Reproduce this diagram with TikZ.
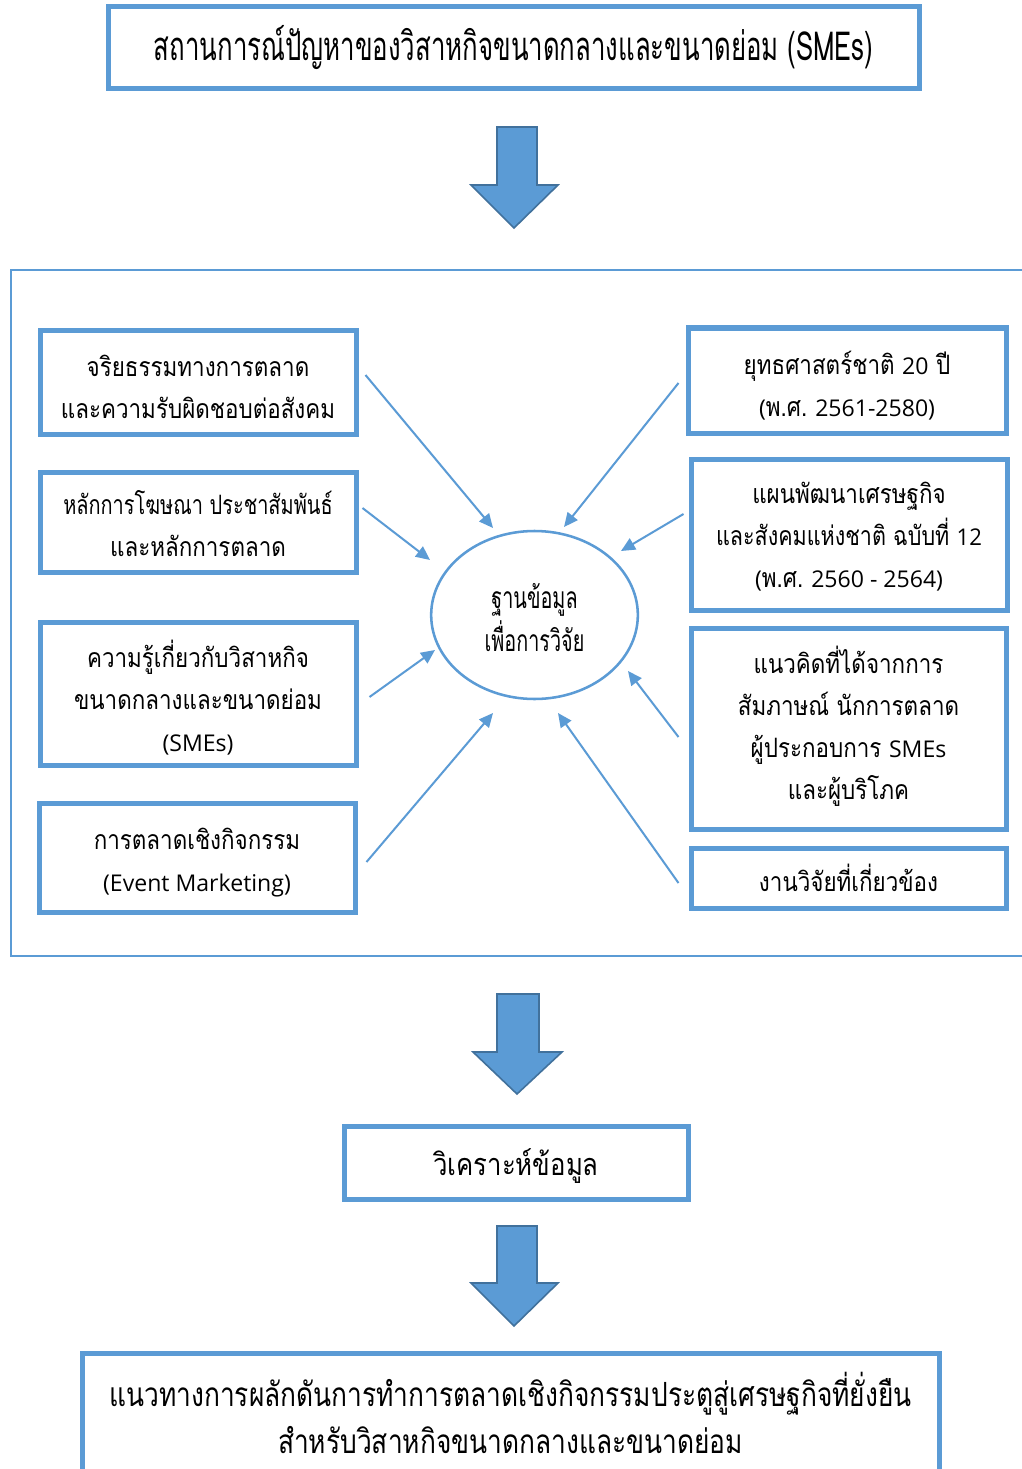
\documentclass[tikz,border=0pt]{standalone}
\usepackage{graphicx}
\usepackage{fontspec}
\setmainfont[Script=Thai]{Loma}
\newfontfamily\boxfont[Script=Thai,FakeStretch=0.84]{Loma}
\newfontfamily\narrowfont[Script=Thai,FakeStretch=0.66]{Loma}
\newfontfamily\topfont[Script=Thai,FakeStretch=0.645]{Loma}
\newfontfamily\botfont[Script=Thai,FakeStretch=0.79]{Loma}
\newfontfamily\latfont{Open Sans}
\newcommand\lat[1]{{\latfont\fontsize{17.3}{31.5}\selectfont #1}}
\newcommand\tl[2]{\raisebox{#1}[\height][\depth]{\begin{tabular}{@{}c@{}}#2\end{tabular}}}
\usetikzlibrary{arrows.meta,calc,shapes.geometric}
\definecolor{bl}{RGB}{91,155,213}
\definecolor{bld}{RGB}{65,113,156}
\begin{document}
\begin{tikzpicture}[x=0.75pt,y=-0.75pt,
 box/.style={draw=bl,line width=3.75pt,inner sep=0pt,font=\boxfont\fontsize{20}{31.5}\selectfont},
 topbox/.style={box,font=\topfont\fontsize{30}{36}\selectfont},
 botbox/.style={box,font=\botfont\fontsize{25}{35}\selectfont},
 anbox/.style={box,font=\boxfont\fontsize{23}{31.5}\selectfont},
 conn/.style={draw=bl,line width=1.5pt,-{Triangle[length=10.5pt,width=9.5pt]}},
 bigarrow/.style={fill=bl,draw=bld,line width=1.2pt,line join=miter}]
\useasboundingbox (0,0) rectangle (1021,1469);
\fill[white] (0,0) rectangle (1021,1469);
% container
\draw[bl,line width=1.5pt] (1040,270) -- (11,270) -- (11,956) -- (1040,956);
% top box
\node[topbox,minimum width=608.25pt,minimum height=61.5pt] (top) at (513.5,48) {\tl{-1.5pt}{สถานการณ์ปัญหาของวิสาหกิจขนาดกลางและขนาดย่อม (SMEs)}};
% arrow 1
\draw[bigarrow] (497,127) -- (537,127) -- (537,185) -- (558,185) -- (514,228) -- (471,185) -- (497,185) -- cycle;
% left boxes
\node[box,minimum width=237pt,minimum height=78pt] (l1) at (198,382) {\tl{-5.4pt}{จริยธรรมทางการตลาด\\และความรับผิดชอบต่อสังคม}};
\node[box,minimum width=237pt,minimum height=75pt] (l2) at (198,522) {\tl{-3.7pt}{\scalebox{0.89}[1]{หลักการโฆษณา ประชาสัมพันธ์}\\และหลักการตลาด}};
\node[box,minimum width=237pt,minimum height=107.25pt] (l3) at (198,693.5) {\tl{-5.8pt}{ความรู้เกี่ยวกับวิสาหกิจ\\ขนาดกลางและขนาดย่อม\\\lat{(SMEs)}}};
\node[box,minimum width=237pt,minimum height=81.75pt] (l4) at (197,857.5) {\tl{-3.4pt}{การตลาดเชิงกิจกรรม\\\lat{(Event Marketing)}}};
% right boxes
\node[box,minimum width=238.5pt,minimum height=78.75pt] (r1) at (847,380.5) {\tl{-5.2pt}{ยุทธศาสตร์ชาติ \lat{20} ปี\\\lat{(}พ.ศ.\lat{ 2561-2580)}}};
\node[box,minimum width=237pt,minimum height=113.25pt] (r2) at (849,534.5) {\tl{-2.2pt}{แผนพัฒนาเศรษฐกิจ\\\scalebox{0.96}[1]{และสังคมแห่งชาติ ฉบับที่ \lat{12}}\\\lat{(}พ.ศ.\lat{ 2560 - 2564)}}};
\node[box,minimum width=236.25pt,minimum height=150.75pt] (r3) at (848.5,728.5) {\tl{0.4pt}{แนวคิดที่ได้จากการ\\สัมภาษณ์ นักการตลาด\\ผู้ประกอบการ \lat{SMEs}\\และผู้บริโภค}};
\node[box,minimum width=236.25pt,minimum height=45pt] (r4) at (848.5,878) {\tl{-3.7pt}{งานวิจัยที่เกี่ยวข้อง}};
% ellipse
\node[draw=bl,line width=1.9pt,ellipse,minimum width=155pt,minimum height=126pt,inner sep=0pt,font=\narrowfont\fontsize{22.5}{31}\selectfont] (db) at (534.5,615) {\tl{-4.8pt}{ฐานข้อมูล\\เพื่อการวิจัย}};
% connector ends
\coordinate (e1) at (493,528);
\coordinate (e2) at (430,560);
\coordinate (e3) at (435,650);
\coordinate (e4) at (493,713);
\coordinate (e5) at (564,527);
\coordinate (e6) at (621,551);
\coordinate (e7) at (628,671);
\coordinate (e8) at (558,713);
\draw[conn] ($(l1.east)+(7,-7)$) -- (e1);
\draw[conn] ($(l2.east)+(4,-14)$) -- (e2);
\draw[conn] ($(l3.east)+(11,3.5)$) -- (e3);
\draw[conn] ($(l4.east)+(9,4.5)$) -- (e4);
\draw[conn] ($(r1.west)+(-7,2.5)$) -- (e5);
\draw[conn] ($(r2.west)+(-5,-20.5)$) -- (e6);
\draw[conn] ($(r3.west)+(-10,8.5)$) -- (e7);
\draw[conn] ($(r4.west)+(-10,5)$) -- (e8);
% arrow 2
\draw[bigarrow] (497,994) -- (539,994) -- (539,1052) -- (562,1052) -- (517,1094) -- (473,1052) -- (497,1052) -- cycle;
\node[anbox,minimum width=258pt,minimum height=54.75pt] (an) at (516,1162.5) {\tl{-3.7pt}{วิเคราะห์ข้อมูล}};
% arrow 3
\draw[bigarrow] (497,1226) -- (537,1226) -- (537,1283) -- (558,1283) -- (514,1326) -- (471,1283) -- (497,1283) -- cycle;
\node[botbox,minimum width=642.75pt,minimum height=94.5pt] (bot) at (510.5,1416) {\tl{-3pt}{แนวทางการผลักดันการทำการตลาดเชิงกิจกรรมประตูสู่เศรษฐกิจที่ยั่งยืน\\สำหรับวิสาหกิจขนาดกลางและขนาดย่อม}};
\end{tikzpicture}
\end{document}
